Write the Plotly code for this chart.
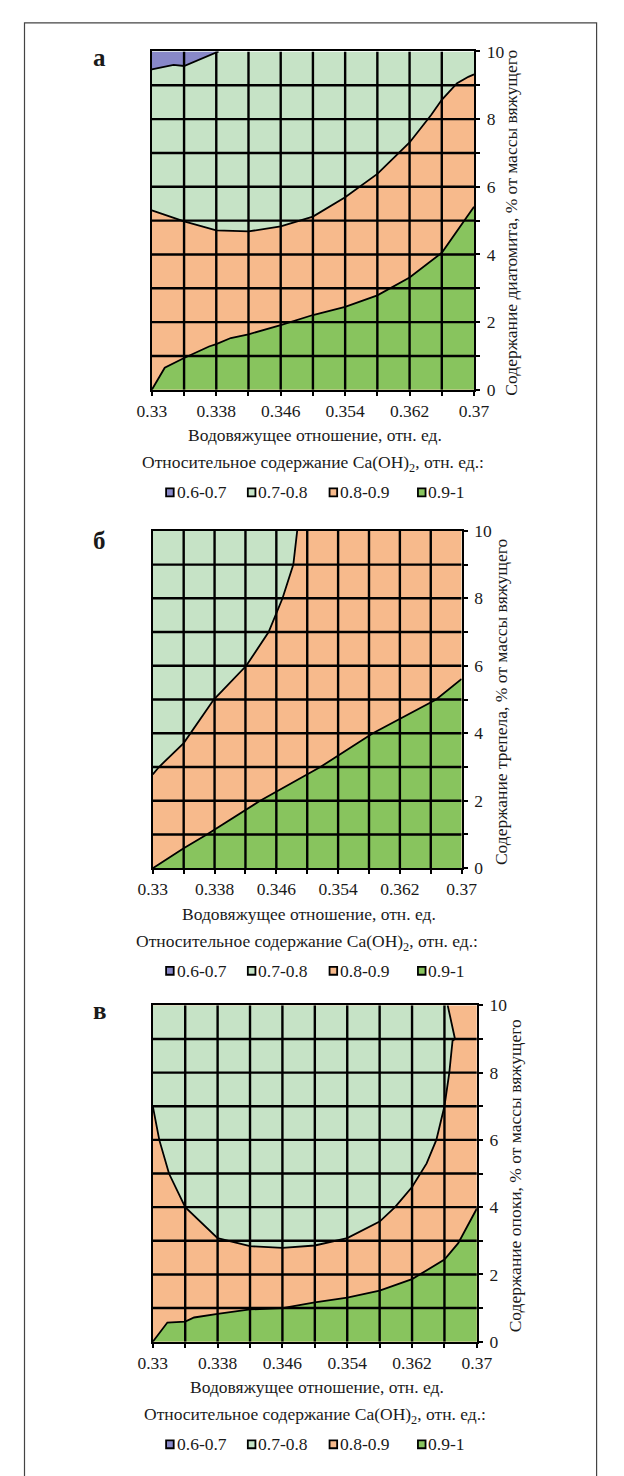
import plotly.graph_objects as go

W, H = 624, 1476

# ---- axes -----------------------------------------------------------------
X_RANGE = [0.33, 0.37]
Y_RANGE = [0, 10]
x_tickvals = [0.33, 0.338, 0.346, 0.354, 0.362, 0.37]
x_ticktext = ["0.33", "0.338", "0.346", "0.354", "0.362", "0.37"]
x_minor = [0.334, 0.338, 0.342, 0.346, 0.35, 0.354, 0.358, 0.362, 0.366]
y_tickvals = [0, 2, 4, 6, 8, 10]
y_minor = [1, 2, 3, 4, 5, 6, 7, 8, 9]

# ---- legend ---------------------------------------------------------------
bands = ["0.6-0.7", "0.7-0.8", "0.8-0.9", "0.9-1"]
band_colors = ["#8888c8", "#c6e3c6", "#f7ba8c", "#88c45e"]

# ---- panel а : diatomite ----------------------------------------------------
a_b67_x = [0.33, 0.3327, 0.334, 0.336, 0.338, 0.3383]
a_b67_y = [9.47, 9.6, 9.57, 9.78, 9.97, 10.0]
a_b78_x = [0.33, 0.334, 0.338, 0.342, 0.346, 0.35, 0.354, 0.358, 0.362,
           0.3647, 0.366, 0.3679, 0.3693, 0.37]
a_b78_y = [5.30, 4.98, 4.71, 4.68, 4.83, 5.12, 5.69, 6.38, 7.31,
           8.13, 8.57, 9.06, 9.25, 9.32]
a_b89_x = [0.33, 0.3316, 0.334, 0.3371, 0.338, 0.3398, 0.342, 0.346, 0.35,
           0.354, 0.358, 0.362, 0.366, 0.37]
a_b89_y = [0.0, 0.65, 0.94, 1.28, 1.35, 1.53, 1.64, 1.91, 2.21,
           2.45, 2.79, 3.32, 4.05, 5.41]

# ---- panel б : tripoli ------------------------------------------------------
b_b78_x = [0.33, 0.3308, 0.334, 0.3379, 0.3421, 0.345, 0.3468, 0.3482, 0.3487]
b_b78_y = [2.78, 3.0, 3.71, 5.0, 6.0, 7.0, 8.0, 9.0, 10.0]
b_b89_x = [0.33, 0.334, 0.337, 0.3439, 0.3517, 0.3585, 0.3667, 0.37]
b_b89_y = [0.0, 0.59, 1.0, 2.0, 3.0, 4.0, 5.0, 5.61]

# ---- panel в : opoka --------------------------------------------------------
v_b78_x = [0.33, 0.3308, 0.332, 0.334, 0.338, 0.342, 0.346, 0.35, 0.354,
           0.358, 0.3599, 0.362, 0.3638, 0.365, 0.366, 0.3666, 0.367,
           0.3673, 0.3664]
v_b78_y = [7.0, 6.0, 5.0, 4.0, 3.08, 2.84, 2.79, 2.86, 3.08,
           3.57, 4.0, 4.6, 5.3, 6.0, 7.0, 8.0, 8.95,
           9.0, 10.0]
v_b89_x = [0.33, 0.3318, 0.334, 0.3351, 0.338, 0.342, 0.346, 0.35, 0.354,
           0.358, 0.362, 0.366, 0.3677, 0.37]
v_b89_y = [0.0, 0.57, 0.6, 0.72, 0.83, 0.96, 1.0, 1.17, 1.31,
           1.52, 1.86, 2.44, 2.93, 3.96]

y_titles = [
    "Содержание диатомита, % от массы вяжущего",
    "Содержание трепела, % от массы вяжущего",
    "Содержание опоки, % от массы вяжущего",
]
panel_letters = ["а", "б", "в"]
x_title = "Водовяжущее отношение, отн. ед."
legend_title = "Относительное содержание Ca(OH)<sub>2</sub>, отн. ед.:"

# plot-area boxes in page pixels: left, right, top, bottom
boxes = [(144, 483, 42, 385), (145, 470, 528, 870), (145, 486, 1009, 1350)]
ytitle_px = [521, 510, 526]
letter_px = [(89, 48), (89, 538), (89, 1014)]

FONT = "Liberation Serif"
FS = 17.5
INK = "#1a1a1a"
GRID_W = 2.4


def px(xp):
    return xp / W


def py(yp):
    return 1 - yp / H


fig = go.Figure()
x0, x1 = X_RANGE
y0, y1 = Y_RANGE


def poly(fig, xs, ys, color, ax):
    fig.add_trace(go.Scatter(
        x=xs, y=ys, mode="lines", fill="toself", fillcolor=color,
        line=dict(width=0), hoverinfo="skip", showlegend=False,
        xaxis="x" + ax, yaxis="y" + ax))


def curve(fig, xs, ys, ax):
    fig.add_trace(go.Scatter(
        x=xs, y=ys, mode="lines", line=dict(color="black", width=1.8),
        hoverinfo="skip", showlegend=False, xaxis="x" + ax, yaxis="y" + ax))


# panel а: background is the 0.7-0.8 band
ax = "1"
poly(fig, [x0] + a_b67_x + [x0], [y1] + a_b67_y + [y1], band_colors[0], ax)
poly(fig, a_b78_x + [x1, x0], a_b78_y + [y0, y0], band_colors[2], ax)
poly(fig, a_b89_x + [x1], a_b89_y + [y0], band_colors[3], ax)
for xs, ys in [(a_b67_x, a_b67_y), (a_b78_x, a_b78_y), (a_b89_x, a_b89_y)]:
    curve(fig, xs, ys, ax)

# panel б: background is the 0.7-0.8 band
ax = "2"
poly(fig, b_b78_x + [x1, x1, x0], b_b78_y + [y1, y0, y0], band_colors[2], ax)
poly(fig, b_b89_x + [x1], b_b89_y + [y0], band_colors[3], ax)
for xs, ys in [(b_b78_x, b_b78_y), (b_b89_x, b_b89_y)]:
    curve(fig, xs, ys, ax)

# panel в: background is the 0.8-0.9 band
ax = "3"
poly(fig, v_b78_x + [x0], v_b78_y + [y1], band_colors[1], ax)
poly(fig, v_b89_x + [x1], v_b89_y + [y0], band_colors[3], ax)
for xs, ys in [(v_b78_x, v_b78_y), (v_b89_x, v_b89_y)]:
    curve(fig, xs, ys, ax)

plot_bg = [band_colors[1], band_colors[1], band_colors[2]]

shapes = []
annotations = []
layout_axes = {}
for i, (l, r, t, b) in enumerate(boxes):
    n = str(i + 1)
    key = "" if i == 0 else n
    layout_axes["xaxis" + key] = dict(
        domain=[px(l), px(r)], range=X_RANGE, anchor="y" + n,
        showgrid=False, zeroline=False, showline=True, mirror=True,
        linecolor="black", linewidth=2.4,
        tickmode="array", tickvals=x_tickvals, ticktext=x_ticktext,
        ticks="outside", ticklen=4, tickwidth=2.4, tickcolor="black",
        minor=dict(tickvals=x_minor, ticks="outside", ticklen=4,
                   tickwidth=2.4, tickcolor="black", showgrid=False),
        tickfont=dict(family=FONT, size=FS, color=INK),
        fixedrange=True,
    )
    layout_axes["yaxis" + key] = dict(
        domain=[py(b), py(t)], range=Y_RANGE, anchor="x" + n, side="right",
        showgrid=False, zeroline=False, showline=True, mirror=True,
        linecolor="black", linewidth=2.4,
        tickmode="array", tickvals=y_tickvals,
        ticks="outside", ticklen=4, tickwidth=2.4, tickcolor="black",
        minor=dict(tickvals=y_minor, ticks="outside", ticklen=4,
                   tickwidth=2.4, tickcolor="black", showgrid=False),
        tickfont=dict(family=FONT, size=FS, color=INK),
        ticklabelstandoff=3,
        fixedrange=True,
    )
    # plot background band
    shapes.append(dict(type="rect", xref="x" + n, yref="y" + n,
                       x0=x0, x1=x1, y0=y0, y1=y1, layer="below",
                       fillcolor=plot_bg[i], line=dict(width=0)))
    # grid drawn over the filled bands
    for gx in x_minor:
        shapes.append(dict(type="line", xref="x" + n, yref="y" + n,
                           x0=gx, x1=gx, y0=y0, y1=y1, layer="above",
                           line=dict(color="black", width=GRID_W)))
    for gy in y_minor:
        shapes.append(dict(type="line", xref="x" + n, yref="y" + n,
                           x0=x0, x1=x1, y0=gy, y1=gy, layer="above",
                           line=dict(color="black", width=GRID_W)))

    cx = (l + r) / 2
    annotations.append(dict(text=x_title, x=px(cx + 2), y=py(b + 46),
                            xref="paper", yref="paper", showarrow=False,
                            xanchor="center", yanchor="middle",
                            font=dict(family=FONT, size=FS, color=INK)))
    annotations.append(dict(text=legend_title, x=px(cx), y=py(b + 75),
                            xref="paper", yref="paper", showarrow=False,
                            xanchor="center", yanchor="middle",
                            font=dict(family=FONT, size=FS, color=INK)))
    annotations.append(dict(text=y_titles[i], x=px(ytitle_px[i] + 1),
                            y=py((t + b) / 2 + 2), textangle=-90,
                            xref="paper", yref="paper", showarrow=False,
                            xanchor="center", yanchor="middle",
                            font=dict(family=FONT, size=FS, color=INK)))
    lx, ly = letter_px[i]
    annotations.append(dict(text="<b>%s</b>" % panel_letters[i],
                            x=px(lx), y=py(ly), xref="paper", yref="paper",
                            showarrow=False, xanchor="center", yanchor="middle",
                            font=dict(family=FONT, size=25, color=INK)))
    # legend row
    row_y = b + 104
    item_x = [163, 249, 335, 428]
    for k, name in enumerate(bands):
        mx = item_x[k]
        shapes.append(dict(type="rect", xref="paper", yref="paper",
                           x0=px(mx - 4), x1=px(mx + 4),
                           y0=py(row_y + 4), y1=py(row_y - 4),
                           fillcolor=band_colors[k],
                           line=dict(color="black", width=1.8)))
        annotations.append(dict(text=name, x=px(mx + 5), y=py(row_y),
                                xref="paper", yref="paper", showarrow=False,
                                xanchor="left", yanchor="middle",
                                font=dict(family=FONT, size=FS, color=INK)))

# outer frame (open at the bottom of the page)
shapes.append(dict(type="rect", xref="paper", yref="paper",
                   x0=px(10), x1=px(612), y0=py(1490), y1=py(13),
                   line=dict(color="#444444", width=1.2)))

fig.update_layout(
    width=W, height=H,
    margin=dict(l=0, r=0, t=0, b=0),
    paper_bgcolor="white", plot_bgcolor="white",
    shapes=shapes, annotations=annotations,
    showlegend=False,
    **layout_axes,
)

fig.write_html("out.html")
